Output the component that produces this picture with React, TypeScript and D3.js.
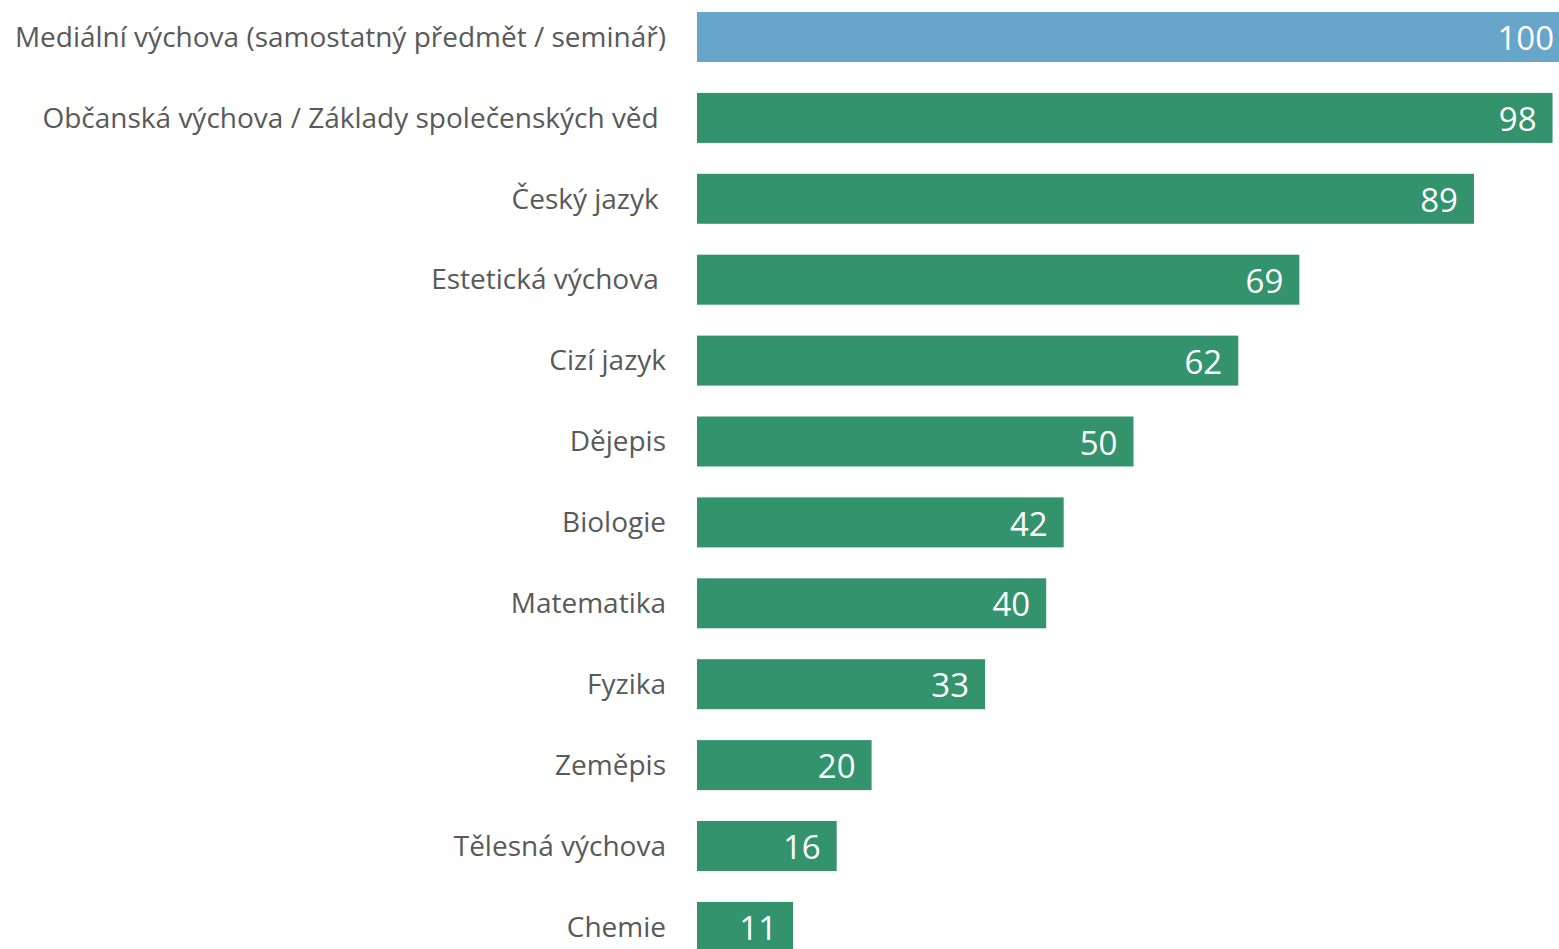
import * as d3 from "d3";

const categories = [
  "Mediální výchova (samostatný předmět / seminář)",
  "Občanská výchova / Základy společenských věd\u00a0",
  "Český jazyk\u00a0",
  "Estetická výchova\u00a0",
  "Cizí jazyk",
  "Dějepis",
  "Biologie",
  "Matematika",
  "Fyzika",
  "Zeměpis",
  "Tělesná výchova",
  "Chemie",
];
const values = [100, 98, 89, 69, 62, 50, 42, 40, 33, 20, 16, 11];
const highlighted = [true, false, false, false, false, false, false, false, false, false, false, false];

export default function App() {
  const width = 1559;
  const height = 949;
  const left = 697;
  const step = 80.9;
  const pad = 0.382;

  const x = d3.scaleLinear([0, 100], [left, left + 873]);
  // first bar top at 12px, bars 50px tall, 80.9px apart
  const y = d3
    .scaleBand(categories, [12 - step * 0.5, 12 - step * 0.5 + step * (categories.length - pad + 1)])
    .paddingInner(pad)
    .paddingOuter(0.5);

  return (
    <svg
      width={width}
      height={height}
      style={{ position: "absolute", left: 0, top: 0 }}
      fontFamily="'Open Sans', sans-serif"
    >
      {categories.map((c, i) => {
        const cy = (y(c) || 0) + y.bandwidth() / 2;
        return (
          <g key={c}>
            <rect
              x={x(0)}
              y={y(c)}
              width={x(values[i]) - x(0)}
              height={y.bandwidth()}
              fill={highlighted[i] ? "#68a5cb" : "#33936d"}
            />
            <text
              x={666}
              y={cy}
              dy="0.35em"
              textAnchor="end"
              fontSize={28}
              fill="#595959"
              style={{ whiteSpace: "pre" }}
            >
              {c}
            </text>
            <text
              x={x(values[i]) - 16}
              y={cy}
              dy="0.4em"
              textAnchor="end"
              fontSize={33}
              fill="#ffffff"
            >
              {values[i]}
            </text>
          </g>
        );
      })}
    </svg>
  );
}
